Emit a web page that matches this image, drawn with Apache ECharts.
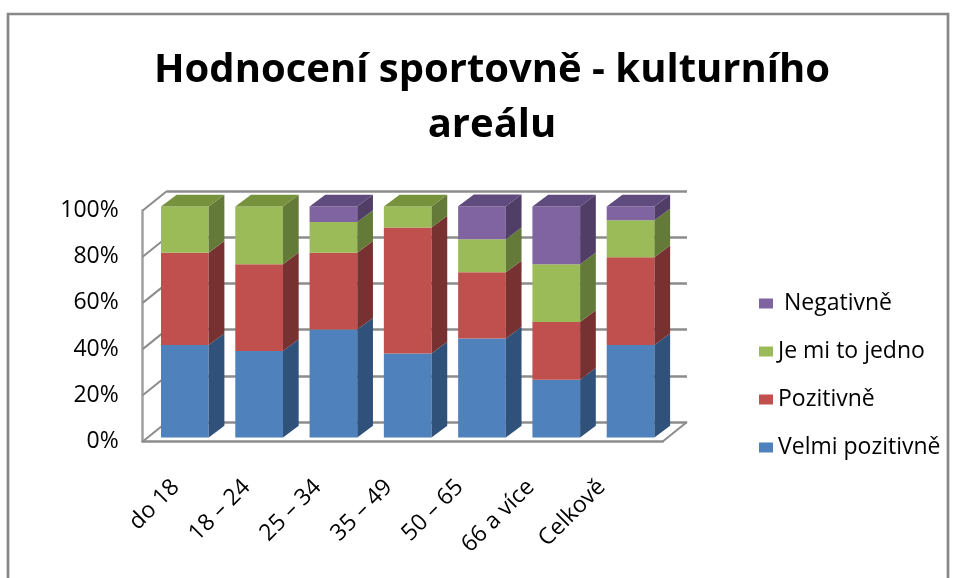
<!DOCTYPE html>
<html>
<head>
<meta charset="utf-8">
<script src="https://cdn.jsdelivr.net/npm/echarts@6/dist/echarts.min.js"></script>
<style>
html, body { margin: 0; padding: 0; background: #fff; }
#chart { width: 955px; height: 578px; }
</style>
</head>
<body>
<div id="chart"></div>
<script>
// data (podíly v %)
var categories = ['do 18', '18 – 24', '25 – 34', '35 – 49', '50 – 65', '66 a více', 'Celkově'];
var velmiPozitivne = [40, 37.5, 46.7, 36.4, 42.9, 25, 40];
var pozitivne = [40, 37.5, 33.3, 54.5, 28.6, 25, 38];
var jedno = [20, 25, 13.3, 9.1, 14.3, 25, 16];
var negativne = [0, 0, 6.7, 0, 14.3, 25, 6];
var yTicks = [0, 20, 40, 60, 80, 100];

var seriesNames = ['Velmi pozitivně', 'Pozitivně', 'Je mi to jedno', 'Negativně'];
var seriesValues = [velmiPozitivne, pozitivne, jedno, negativne];
var faceColors = [
	{front: '#4F81BD', side: '#30517A', top: '#3F6797'},
	{front: '#C0504D', side: '#773130', top: '#9A403E'},
	{front: '#9BBB59', side: '#647A38', top: '#77923C'},
	{front: '#8064A2', side: '#503E67', top: '#604B7E'}
];

// geometrie "3D" (šikmá projekce jako v Excelu)
var wallLeft = 142.7, wallTop = 210.5, plotW = 520, plotH = 231;
var wallDepth = [24.3, -19.5];
var barShift = [5, -4];
var barDepth = [15.7, -11.7];
var barRatio = 0.642;
var lineGray = '#8C8C8C';
// popisky kategorií jsou v Excelu trochu stlačené
var labelLeft = 140.25, labelWidth = 497;

// stacked intervals
var stacked = seriesValues.map(function (vals, k) {
	return vals.map(function (v, i) {
		var base = 0;
		for (var j = 0; j < k; j++) base += seriesValues[j][i];
		var topmost = true;
		for (var m = k + 1; m < seriesValues.length; m++) {
			if (seriesValues[m][i] > 0) topmost = false;
		}
		return [i, base, base + v, topmost ? 1 : 0];
	});
});

function renderBar(k) {
	return function (params, api) {
		var i = api.value(0), y0 = api.value(1), y1 = api.value(2);
		if (y1 - y0 <= 0) return;
		var c0 = api.coord([i, y0]);
		var c1 = api.coord([i, y1]);
		var bw = api.size([1, 0])[0] * barRatio;
		var xL = c0[0] - bw / 2, xR = c0[0] + bw / 2;
		var dx = barDepth[0], dy = barDepth[1];
		var col = faceColors[k];
		var children = [
			{type: 'rect', shape: {x: xL, y: c1[1], width: bw, height: c0[1] - c1[1]}, style: {fill: col.front}},
			{type: 'polygon', shape: {points: [[xR, c0[1]], [xR, c1[1]], [xR + dx, c1[1] + dy], [xR + dx, c0[1] + dy]]}, style: {fill: col.side}}
		];
		if (api.value(3) === 1) {
			children.push({type: 'polygon', shape: {points: [[xL, c1[1]], [xR, c1[1]], [xR + dx, c1[1] + dy], [xL + dx, c1[1] + dy]]}, style: {fill: col.top}});
		}
		return {type: 'group', children: children};
	};
}

var series = [{
	// side wall lines + floor edge
	type: 'custom',
	xAxisIndex: 0,
	yAxisIndex: 0,
	silent: true,
	z: 1,
	data: yTicks.map(function (v) { return [0, v]; }),
	renderItem: function (params, api) {
		var v = api.value(1);
		var band = api.size([1, 0])[0];
		var p = api.coord([0, v]);
		var x0 = p[0] - band / 2;
		var children = [{
			type: 'line',
			shape: {x1: x0, y1: p[1], x2: x0 + wallDepth[0], y2: p[1] + wallDepth[1]},
			style: {stroke: lineGray, lineWidth: 2}
		}];
		if (v === 0) {
			var q = api.coord([categories.length - 1, 0]);
			var x1 = q[0] + band / 2;
			children.push({
				type: 'line',
				shape: {x1: x1, y1: q[1], x2: x1 + wallDepth[0], y2: q[1] + wallDepth[1]},
				style: {stroke: lineGray, lineWidth: 2}
			});
		}
		return {type: 'group', children: children};
	}
}];

seriesNames.forEach(function (name, k) {
	series.push({
		name: name,
		type: 'custom',
		xAxisIndex: 1,
		yAxisIndex: 1,
		z: 2 + k,
		itemStyle: {color: faceColors[k].front},
		encode: {x: 0, y: [1, 2]},
		data: stacked[k],
		renderItem: renderBar(k)
	});
});

var font = "'Open Sans', sans-serif";

var myChart = echarts.init(document.getElementById('chart'));
var option = {
	animation: false,
	backgroundColor: '#fff',
	title: {
		text: 'Hodnocení sportovně - kulturního\nareálu',
		left: 487,
		top: 38,
		textAlign: 'center',
		textStyle: {
			fontFamily: font,
			fontSize: 40,
			fontWeight: 'bold',
			lineHeight: 55,
			color: '#000'
		}
	},
	legend: {
		data: ['Negativně', 'Je mi to jedno', 'Pozitivně', 'Velmi pozitivně'],
		orient: 'vertical',
		left: 754,
		top: 287,
		icon: 'rect',
		itemWidth: 14,
		itemHeight: 10,
		itemGap: 25,
		selectedMode: false,
		formatter: function (name) {
			return name === 'Negativně' ? ' ' + name : name;
		},
		textStyle: {fontFamily: font, fontSize: 23, lineHeight: 23, color: '#000'}
	},
	grid: [
		{left: wallLeft, top: wallTop, width: plotW, height: plotH, containLabel: false, outerBoundsMode: 'none'},
		{left: wallLeft + barShift[0], top: wallTop + barShift[1], width: plotW, height: plotH, containLabel: false, outerBoundsMode: 'none'},
		{left: wallLeft + wallDepth[0], top: wallTop + wallDepth[1], width: plotW, height: plotH, containLabel: false, outerBoundsMode: 'none'},
		{left: labelLeft, top: wallTop + barShift[1], width: labelWidth, height: plotH, containLabel: false, outerBoundsMode: 'none'}
	],
	xAxis: [
		{
			gridIndex: 0, type: 'category', data: categories,
			axisLine: {show: true, lineStyle: {color: lineGray, width: 2.5}},
			axisTick: {show: false},
			axisLabel: {show: false},
			splitLine: {show: false}
		},
		{gridIndex: 1, type: 'category', data: categories, show: false},
		{gridIndex: 2, type: 'category', data: categories, show: false},
		{
			gridIndex: 3, type: 'category', data: categories,
			axisLine: {show: false},
			axisTick: {show: false},
			axisLabel: {
				show: true, interval: 0, rotate: 45, margin: 46,
				fontFamily: font, fontSize: 23, color: '#000'
			},
			splitLine: {show: false}
		}
	],
	yAxis: [
		{
			gridIndex: 0, type: 'value', min: 0, max: 100, interval: 20,
			axisLine: {show: true, lineStyle: {color: '#A0A0A0', width: 2.5}},
			axisTick: {show: false},
			axisLabel: {
				formatter: '{value}%', margin: 24, padding: [8, 0, 0, 0],
				fontFamily: font, fontSize: 23, color: '#000'
			},
			splitLine: {show: false}
		},
		{gridIndex: 1, type: 'value', min: 0, max: 100, interval: 20, show: false},
		{
			gridIndex: 2, type: 'value', min: 0, max: 100, interval: 20,
			axisLine: {show: false},
			axisTick: {show: false},
			axisLabel: {show: false},
			splitLine: {show: true, lineStyle: {color: lineGray, width: 2.5}}
		},
		{gridIndex: 3, type: 'value', min: 0, max: 100, interval: 20, show: false}
	],
	graphic: [{
		type: 'rect',
		silent: true,
		shape: {x: 8, y: 14, width: 940, height: 600},
		style: {fill: 'none', stroke: '#888', lineWidth: 2.7}
	}],
	series: series
};
myChart.setOption(option, true);

window.onresize = function () {
	myChart.resize();
};
</script>
</body>
</html>
